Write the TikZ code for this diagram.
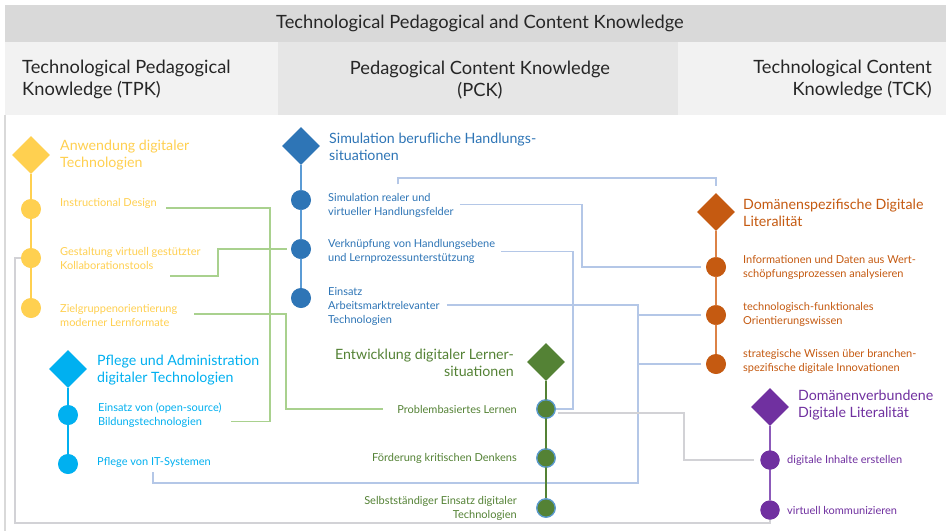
\documentclass[tikz,border=0pt]{standalone}
\usepackage{fontspec}
\setmainfont{Lato}
\usetikzlibrary{shapes.geometric,calc}
\definecolor{cYel}{RGB}{255,208,80}
\definecolor{cCyan}{RGB}{0,176,240}
\definecolor{cBlue}{RGB}{46,117,182}
\definecolor{cBlueL}{RGB}{91,155,213}
\definecolor{cGreen}{RGB}{84,130,53}
\definecolor{cOrange}{RGB}{197,90,17}
\definecolor{cOrangeL}{RGB}{220,130,70}
\definecolor{cPurple}{RGB}{112,48,160}
\definecolor{cPurpleL}{RGB}{140,90,185}
\definecolor{conG}{RGB}{169,209,142}
\definecolor{conB}{RGB}{180,199,231}
\definecolor{conGray}{RGB}{210,210,214}
\definecolor{bandTop}{RGB}{217,217,217}
\definecolor{bandMid}{RGB}{230,230,230}
\definecolor{bandLight}{RGB}{242,242,242}
\definecolor{hdrText}{RGB}{38,38,38}
\begin{document}
\begin{tikzpicture}[x=1pt,y=-1pt,
  dia/.style={diamond, shape aspect=1, minimum size=38pt, inner sep=0pt, fill=#1},
  kdot/.style={circle, minimum size=20pt, inner sep=0pt, fill=#1},
  gdot/.style={circle, minimum size=19pt, inner sep=0pt, fill=cGreen, draw=cBlueL, line width=0.8pt},
  hdr/.style={font=\fontsize{18.3}{22}\selectfont, text=hdrText, inner sep=0pt},
  ttl/.style={font=\fontsize{14.2}{17}\selectfont, text=#1, align=left, anchor=west, inner sep=0pt},
  ttlr/.style={font=\fontsize{14.2}{17}\selectfont, text=#1, align=right, anchor=east, inner sep=0pt},
  itm/.style={font=\fontsize{11}{14}\selectfont, text=#1, align=left, anchor=west, inner sep=0pt},
  itmr/.style={font=\fontsize{11}{14}\selectfont, text=#1, align=right, anchor=east, inner sep=0pt},
  tl/.style={draw=#1, line width=1.5pt},
  cg/.style={draw=conG, line width=1.2pt},
  cb/.style={draw=conB, line width=1.2pt},
  cgy/.style={draw=conGray, line width=1.2pt}
]
\useasboundingbox (0,0) rectangle (946,531);
\fill[white] (0,0) rectangle (946,531);
% bands
\fill[bandTop] (5,5) rectangle (946,42);
\fill[bandLight] (5,42) rectangle (278,115);
\fill[bandMid] (278,42) rectangle (678,115);
\fill[bandLight] (678,42) rectangle (946,115);
\draw[draw=bandTop, line width=2pt] (5,115) -- (5,531);

\node[hdr] (hTitle) at (480,23) {Technological Pedagogical and Content Knowledge};
\node[hdr, anchor=west, align=left] (hTPK) at (22,79) {Technological Pedagogical\\Knowledge (TPK)};
\node[hdr, align=center] (hPCK) at (480,80) {Pedagogical Content Knowledge\\(PCK)};
\node[hdr, anchor=east, align=right] (hTCK) at (932,79) {Technological Content\\Knowledge (TCK)};

% ---- nodes: yellow
\node[dia=cYel] (yD) at (31,155) {};
\node[kdot=cYel] (yDot1) at (31,209) {};
\node[kdot=cYel] (yDot2) at (31,258) {};
\node[kdot=cYel] (yDot3) at (31,308) {};
\node[ttl=cYel] (tYT) at (60,155.5) {Anwendung digitaler\\Technologien};
\node[itm=cYel] (tID) at (60,203) {Instructional Design};
\node[itm=cYel] (tGest) at (60,258) {Gestaltung virtuell gestützter\\Kollaborationstools};
\node[itm=cYel] (tZiel) at (60,315) {Zielgruppenorientierung\\moderner Lernformate};
% cyan
\node[dia=cCyan] (cD) at (68,369) {};
\node[kdot=cCyan] (cDot1) at (68,415) {};
\node[kdot=cCyan] (cDot2) at (68,464) {};
\node[ttl=cCyan] (tCT) at (97,370) {Pflege und Administration\\digitaler Technologien};
\node[itm=cCyan] (tEOS) at (98,415.5) {Einsatz von (open-source)\\Bildungstechnologien};
\node[itm=cCyan] (tPIT) at (97,462) {Pflege von IT-Systemen};
% blue
\node[dia=cBlue] (bD) at (301,146) {};
\node[kdot=cBlue] (bDot1) at (301,200) {};
\node[kdot=cBlue] (bDot2) at (301,249) {};
\node[kdot=cBlue] (bDot3) at (301,298) {};
\node[ttl=cBlue] (tBT) at (329,147) {Simulation berufliche Handlungs-\\situationen};
\node[itm=cBlue] (tSimR) at (328,205.5) {Simulation realer und\\virtueller Handlungsfelder};
\node[itm=cBlue] (tVerk) at (328,251.5) {Verknüpfung von Handlungsebene\\und Lernprozessunterstützung};
\node[itm=cBlue] (tEins) at (328,306) {Einsatz\\Arbeitsmarktrelevanter\\Technologien};
% green
\node[dia=cGreen] (gD) at (546,362) {};
\node[gdot] (gDot1) at (546,409) {};
\node[gdot] (gDot2) at (546,458) {};
\node[gdot] (gDot3) at (546,508) {};
\node[ttlr=cGreen] (tGT) at (514,363) {Entwicklung digitaler Lerner-\\situationen};
\node[itmr=cGreen] (tProb) at (517,409) {Problembasiertes Lernen};
\node[itmr=cGreen] (tFoerd) at (517,458) {Förderung kritischen Denkens};
\node[itmr=cGreen] (tSelb) at (517,508) {Selbstständiger Einsatz digitaler\\Technologien};
% orange
\node[dia=cOrange] (oD) at (716,212) {};
\node[kdot=cOrange] (oDot1) at (716,267) {};
\node[kdot=cOrange] (oDot2) at (716,315) {};
\node[kdot=cOrange] (oDot3) at (716,364) {};
\node[ttl=cOrange] (tOT) at (743,213) {Domänenspezifische Digitale\\Literalität};
\node[itm=cOrange] (tInf) at (743,267) {Informationen und Daten aus Wert-\\schöpfungsprozessen analysieren};
\node[itm=cOrange] (tTech) at (743,314) {technologisch-funktionales\\Orientierungswissen};
\node[itm=cOrange] (tStrat) at (743,361) {strategische Wissen über branchen-\\spezifische digitale Innovationen};
% purple
\node[dia=cPurple] (pD) at (770,407) {};
\node[kdot=cPurple, minimum size=19pt] (pDot1) at (770,460) {};
\node[kdot=cPurple, minimum size=19pt] (pDot2) at (770,510) {};
\node[ttl=cPurple] (tPT) at (798,405.5) {Domänenverbundene\\Digitale Literalität};
\node[itm=cPurple] (tDig) at (787,460) {digitale Inhalte erstellen};
\node[itm=cPurple] (tVirt) at (787,510) {virtuell kommunizieren};

% ---- bend coordinates
\coordinate (xA) at (270,0);
\coordinate (xB) at (218,0);
\coordinate (xC) at (286,0);
\coordinate (yTop) at (0,178);
\coordinate (xE) at (582,0);
\coordinate (xF) at (573,0);
\coordinate (xG) at (638,0);
\coordinate (yBus) at (0,483);
\coordinate (xH) at (684,0);
\coordinate (xI) at (15,0);
\coordinate (yBot) at (0,523);

% green connectors
\coordinate (e1) at ($(tEOS.east)+(9,6)$);
\draw[cg] ($(tID.east)+(9,5)$) -| (xA |- e1) -- (e1);
\coordinate (e2) at ($(tGest.west)+(110,18)$);
\draw[cg] ($(bDot2.west)+(-4,0)$) -| (xB |- e2) -- (e2);
\coordinate (e3) at ($(tProb.west)+(-14,0)$);
\draw[cg] ($(tZiel.west)+(134,-1)$) -| (xC |- e3) -- (e3);
% blue connectors
\coordinate (s4) at ($(tSimR.north west)+(70,-9)$);
\draw[cb] (s4) -- (s4 |- yTop) -| ($(oD.north)+(0,-7)$);
\draw[cb] ($(tSimR.east)+(6,-1)$) -| (xE |- oDot1.west) -- ($(oDot1.west)+(-5,0)$);
\draw[cb] ($(tVerk.east)+(6,0)$) -| (xF |- gDot1.east) -- (gDot1.east);
\coordinate (s7b) at ($(tPIT.south west)+(56,5)$);
\draw[cb] ($(tEins.east)+(7,-1)$) -| (xG |- yBus) -| (s7b);
\draw[cb] (xG |- oDot2.west) -- ($(oDot2.west)+(-5,0)$);
\draw[cb] (xG |- oDot3.west) -- ($(oDot3.west)+(-5,0)$);
% gray connectors
\draw[cgy] ($(gDot1.east)+(2,4)$) -| (xH |- pDot1.west) -- ($(pDot1.west)+(-6,0)$);
\draw[cgy] (yDot2.west) -| (xI |- yBot) -| (pDot2.south);

% ---- timelines (drawn over connectors)
\draw[tl=cYel] (yD.south) -- (yDot3.north);
\draw[tl=cCyan] (cD.south) -- (cDot2.north);
\draw[tl=cBlueL] (bD.south) -- (bDot3.north);
\draw[tl=cGreen] (gD.south) -- (gDot3.north);
\draw[tl=cOrangeL] (oD.south) -- (oDot3.north);
\draw[tl=cPurpleL] (pD.south) -- (pDot2.north);
% redraw dots on top
\foreach \n/\c in {yDot1/cYel,yDot2/cYel,yDot3/cYel,cDot1/cCyan,cDot2/cCyan,bDot1/cBlue,bDot2/cBlue,bDot3/cBlue,oDot1/cOrange,oDot2/cOrange,oDot3/cOrange,pDot1/cPurple,pDot2/cPurple}
  \fill[\c] (\n) circle (9.6pt);
\foreach \n in {gDot1,gDot2,gDot3}
  \filldraw[fill=cGreen, draw=cBlueL, line width=0.8pt] (\n) circle (9pt);
\end{tikzpicture}
\end{document}
